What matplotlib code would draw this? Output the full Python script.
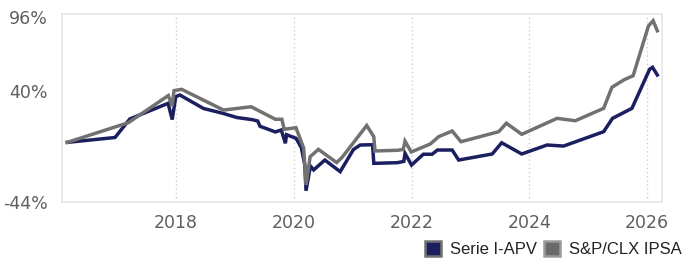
import matplotlib
matplotlib.use("Agg")
import matplotlib.pyplot as plt
from matplotlib.patches import Patch

# ---- data (decimal year, cumulative return %) ----
serie_t = [2016.16, 2016.97, 2017.22, 2017.87, 2017.94, 2018.00, 2018.07, 2018.47, 2018.80,
           2019.04, 2019.30, 2019.39, 2019.43, 2019.69, 2019.79, 2019.86, 2019.88, 2020.04,
           2020.13, 2020.19, 2020.21, 2020.285, 2020.34, 2020.53, 2020.79, 2021.015, 2021.13,
           2021.34, 2021.36, 2021.76, 2021.87, 2021.89, 2022.00, 2022.20, 2022.35, 2022.44,
           2022.69, 2022.80, 2023.37, 2023.53, 2023.87, 2024.30, 2024.58, 2025.26, 2025.41,
           2025.74, 2026.04, 2026.09, 2026.17]
serie_v = [1.2, 4.9, 18.9, 30.8, 18.5, 35.8, 37.1, 26.9, 23.2,
           20.0, 18.4, 17.4, 13.4, 9.1, 10.6, 0.5, 7.0, 4.3,
           -2.7, -16.0, -35.5, -16.7, -19.7, -12.2, -21.0, -4.2, -0.8,
           -0.6, -14.7, -14.2, -13.2, -7.1, -16.0, -7.8, -7.8, -4.6,
           -4.6, -12.2, -7.6, 0.9, -7.6, -0.8, -1.6, 9.3, 19.4,
           27.0, 56.6, 58.1, 52.3]

ipsa_t = [2016.16, 2017.195, 2017.874, 2017.94, 2017.97, 2018.10, 2018.81, 2019.28, 2019.69,
          2019.80, 2019.84, 2020.04, 2020.17, 2020.21, 2020.28, 2020.42, 2020.73, 2020.82,
          2021.24, 2021.36, 2021.38, 2021.77, 2021.86, 2021.89, 2021.995, 2022.32, 2022.46,
          2022.69, 2022.84, 2023.48, 2023.61, 2023.87, 2024.47, 2024.78, 2025.26, 2025.40,
          2025.60, 2025.76, 2026.02, 2026.10, 2026.17]
ipsa_v = [1.2, 16.1, 36.7, 28.8, 40.4, 41.4, 25.7, 28.2, 18.7,
          18.7, 11.1, 12.3, -3.1, -31.1, -9.7, -4.1, -14.1, -10.3,
          14.0, 5.5, -5.3, -4.8, -4.1, 2.1, -6.1, 0.0, 5.5,
          9.8, 1.7, 9.3, 15.7, 7.3, 19.4, 17.6, 27.0, 42.9,
          48.5, 51.7, 89.4, 93.4, 85.8]

year_ticks = [2018, 2020, 2022, 2024, 2026]
y_ticks = [-44, 40, 96]
y_labels = ["-44%", "40%", "96%"]
series_names = ["Serie I-APV", "S&P/CLX IPSA"]

navy = "#1b1f5f"
gray = "#717171"

fig = plt.figure(figsize=(6.83, 2.63), dpi=100)
ax = fig.add_axes([62/683, 1-202/263, 600/683, 188/263])

ax.plot(serie_t, serie_v, color=navy, lw=2.5, solid_joinstyle="miter")
ax.plot(ipsa_t, ipsa_v, color=gray, lw=2.5, solid_joinstyle="miter")

ax.set_xlim(2016.07, 2026.25)
ax.set_ylim(-44, 98.5)
ax.set_xticks(year_ticks)
ax.set_xticklabels([str(y) for y in year_ticks])
ax.set_yticks(y_ticks)
ax.set_yticklabels(y_labels)
ax.tick_params(axis="both", length=0, labelsize=12.5, colors="#5f5f5f")
ax.tick_params(axis="x", pad=9)
ax.tick_params(axis="y", pad=10)
ax.grid(axis="x", color="#cfcfcf", linestyle=(0, (1, 2)), lw=1)
ax.grid(axis="y", visible=False)
for s in ax.spines.values():
    s.set_color("#e6e6e6")
    s.set_linewidth(1.2)

handles = [Patch(facecolor=navy, edgecolor=gray, linewidth=1.8),
           Patch(facecolor="#6a6a6a", edgecolor="#9a9a9a", linewidth=1.8)]
fig.legend(handles, series_names, loc="center right", bbox_to_anchor=(0.998, 0.052),
           ncol=2, frameon=False, borderpad=0, borderaxespad=0,
           handlelength=0.95, handleheight=0.95, handletextpad=0.55, columnspacing=0.4,
           prop={"family": "Liberation Sans", "size": 12}, labelcolor="#222222")

fig.savefig("out.png", dpi=100)
